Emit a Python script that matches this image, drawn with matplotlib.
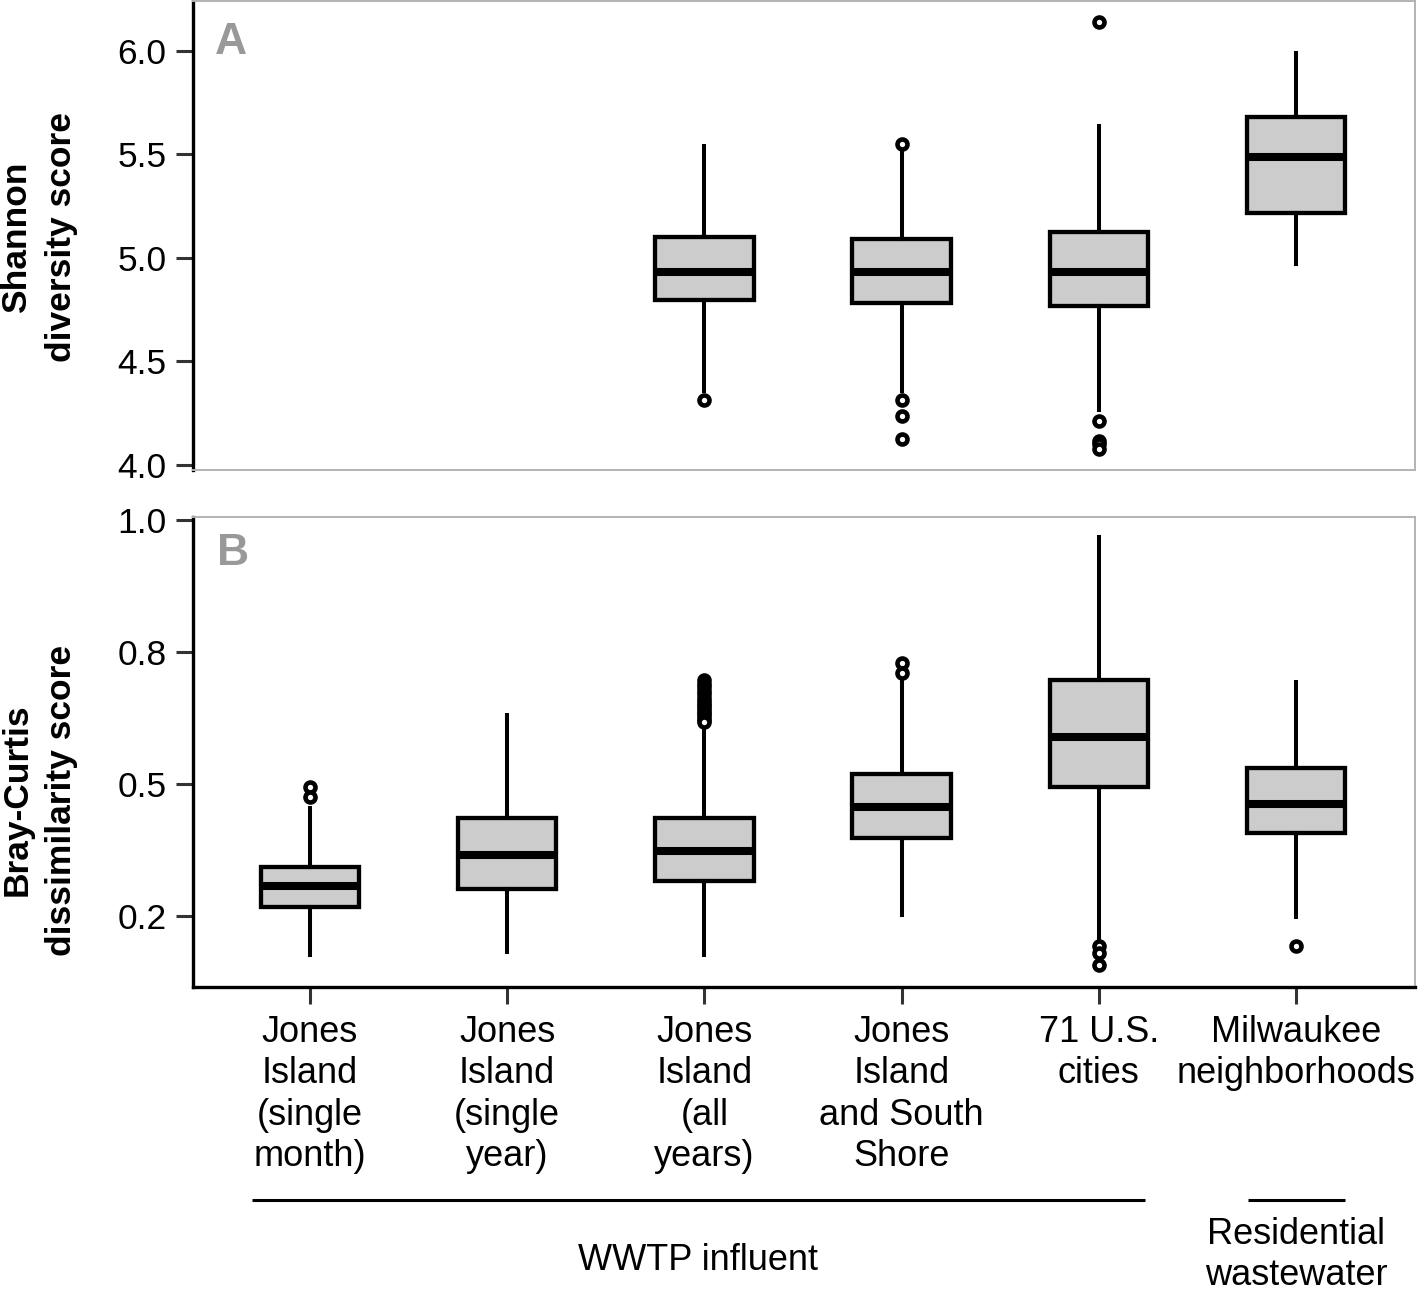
import numpy as np
import matplotlib
matplotlib.use("Agg")
import matplotlib.pyplot as plt
from matplotlib.ticker import FormatStrFormatter
import matplotlib.transforms as mtransforms

plt.rcParams['font.family'] = ['Liberation Sans', 'DejaVu Sans']

categories = ["Jones\nIsland\n(single\nmonth)", "Jones\nIsland\n(single\nyear)",
              "Jones\nIsland\n(all\nyears)", "Jones\nIsland\nand South\nShore",
              "71 U.S.\ncities", "Milwaukee\nneighborhoods"]
positions = [1, 2, 3, 4, 5, 6]

# Panel A: Shannon diversity (only groups 3-6 present)
shannon_pos = [3, 4, 5, 6]
shannon_med = [4.933, 4.933, 4.930, 5.486]
shannon_q1 = [4.798, 4.782, 4.766, 5.216]
shannon_q3 = [5.102, 5.090, 5.127, 5.678]
shannon_lo = [4.357, 4.357, 4.266, 4.971]
shannon_hi = [5.538, 5.520, 5.635, 5.990]
shannon_fliers = [[4.312],
                  [5.551, 4.314, 4.237, 4.128],
                  [6.139, 4.213, 4.117, 4.101, 4.077],
                  []]

# Panel B: Bray-Curtis dissimilarity
bc_med = [0.307, 0.366, 0.374, 0.456, 0.590, 0.463]
bc_q1 = [0.268, 0.302, 0.317, 0.397, 0.495, 0.407]
bc_q3 = [0.343, 0.435, 0.435, 0.520, 0.697, 0.530]
bc_lo = [0.176, 0.182, 0.176, 0.252, 0.198, 0.249]
bc_hi = [0.454, 0.631, 0.606, 0.697, 0.968, 0.694]
bc_fliers = [[0.494, 0.476],
             [],
             [0.697, 0.690, 0.683, 0.676, 0.670, 0.664, 0.658, 0.652, 0.647,
              0.642, 0.637, 0.632, 0.627, 0.622, 0.617],
             [0.730, 0.710],
             [0.193, 0.179, 0.157],
             [0.193]]

shannon_ticks = [4.0, 4.5, 5.0, 5.5, 6.0]
bc_ticks = [0.25, 0.5, 0.75, 1.0]

W, H = 1418, 1295
fig = plt.figure(figsize=(W / 100, H / 100), dpi=100)

def ax_rect(left, top, right, bottom):
    return [left / W, 1 - bottom / H, (right - left) / W, (bottom - top) / H]

axA = fig.add_axes(ax_rect(193, 1, 1415, 470))
axB = fig.add_axes(ax_rect(193, 517, 1415, 987))

def make_stats(med, q1, q3, lo, hi, fl):
    return [dict(med=m, q1=a, q3=b, whislo=l, whishi=h, fliers=f)
            for m, a, b, l, h, f in zip(med, q1, q3, lo, hi, fl)]

style = dict(widths=0.5, patch_artist=True, showcaps=False,
             boxprops=dict(facecolor='#cccccc', edgecolor='black', linewidth=3.1),
             medianprops=dict(color='black', linewidth=5.8, solid_capstyle='butt'),
             whiskerprops=dict(color='black', linewidth=2.9),
             flierprops=dict(marker='o', markerfacecolor='white',
                             markeredgecolor='black', markersize=7.2,
                             markeredgewidth=3.3))

axA.bxp(make_stats(shannon_med, shannon_q1, shannon_q3, shannon_lo, shannon_hi,
                   shannon_fliers), positions=shannon_pos, **style)
axB.bxp(make_stats(bc_med, bc_q1, bc_q3, bc_lo, bc_hi, bc_fliers),
        positions=positions, **style)

xlim = (0.407, 6.603)
for ax in (axA, axB):
    ax.set_xlim(*xlim)
    ax.spines['left'].set_color('black')
    ax.spines['left'].set_linewidth(2.4)
    for s in ('top', 'right'):
        ax.spines[s].set_color('#b3b3b3')
        ax.spines[s].set_linewidth(1.4)
    ax.tick_params(axis='y', direction='out', length=12, width=2.2,
                   color='#333333', labelsize=25.5, pad=7, labelcolor='black')

axA.spines['bottom'].set_color('#b3b3b3')
axA.spines['bottom'].set_linewidth(1.4)
axB.spines['bottom'].set_color('black')
axB.spines['bottom'].set_linewidth(2.4)

axA.set_ylim(3.976, 6.24)
axA.set_yticks(shannon_ticks)
axA.yaxis.set_major_formatter(FormatStrFormatter('%.1f'))
axA.set_xticks([])

axB.set_ylim(0.1155, 1.006)
axB.set_yticks(bc_ticks)
axB.yaxis.set_major_formatter(FormatStrFormatter('%.1f'))
axB.set_xticks(positions)
axB.set_xticklabels(categories, linespacing=1.24)
axB.tick_params(axis='x', direction='out', length=12, width=2.2,
                color='#333333', labelsize=26, pad=8)

# Panel letters
axA.text(0.018, 0.955, "A", transform=axA.transAxes, fontsize=32,
         fontweight='bold', color='#999999', va='top', ha='left')
axB.text(0.020, 0.966, "B", transform=axB.transAxes, fontsize=32,
         fontweight='bold', color='#999999', va='top', ha='left')

# Y labels
fig.text(39 / W, 1 - 237 / H, "Shannon\ndiversity score", rotation=90,
         fontsize=25.5, fontweight='bold', ha='center', va='center',
         multialignment='center', linespacing=1.45)
fig.text(39 / W, 1 - 800 / H, "Bray-Curtis\ndissimilarity score", rotation=90,
         fontsize=25.5, fontweight='bold', ha='center', va='center',
         multialignment='center', linespacing=1.45)

# Group brackets
trans = mtransforms.blended_transform_factory(axB.transData, fig.transFigure)
yline = 1 - 1200 / H
axB.plot([0.706, 5.234], [yline, yline], transform=trans, color='black',
         linewidth=2.2, clip_on=False, solid_capstyle='butt')
axB.plot([5.757, 6.248], [yline, yline], transform=trans, color='black',
         linewidth=2.2, clip_on=False, solid_capstyle='butt')
axB.text(2.967, 1 - 1261 / H, "WWTP influent", transform=trans, fontsize=26,
         ha='center', va='center')
axB.text(6.0, 1 - 1255 / H, "Residential\nwastewater", transform=trans,
         fontsize=26, ha='center', va='center', linespacing=1.2)

fig.savefig("out.png", dpi=100, facecolor='white')
